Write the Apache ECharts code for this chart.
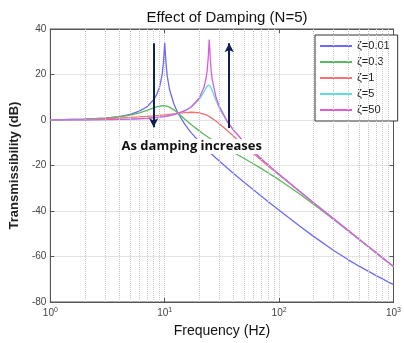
<!DOCTYPE html>
<html>
<head>
<meta charset="utf-8">
<script src="https://cdn.jsdelivr.net/npm/echarts@6/dist/echarts.min.js"></script>
<style>
  html, body { margin: 0; padding: 0; background: #fff; }
  #chart { width: 404px; height: 343px; }
</style>
</head>
<body>
<div id="chart"></div>
<script>
// frequency points (Hz) shared by all curves
const freq = [1, 2, 3, 4, 5, 6, 7, 8, 8.5, 9, 9.5, 9.75, 10, 10.25, 10.5, 11, 12, 13, 15, 17, 20, 22, 23, 23.5, 24, 24.25, 24.5, 24.75, 25, 25.5, 26, 28, 30, 35, 40, 50, 60, 70, 80, 100, 150, 200, 300, 400, 500, 700, 1000];

// transmissibility in dB, one list per damping ratio
const zeta001 = [0.09, 0.35, 0.82, 1.51, 2.50, 3.88, 5.85, 8.87, 11.12, 14.38, 20.06, 25.49, 33.98, 25.27, 19.62, 13.51, 7.12, 3.22, -1.94, -5.53, -9.53, -11.69, -12.65, -13.11, -13.55, -13.77, -13.98, -14.20, -14.40, -14.81, -15.21, -16.70, -18.04, -20.99, -23.48, -27.54, -30.79, -33.51, -35.83, -39.68, -46.49, -51.15, -57.33, -61.35, -64.26, -68.31, -72.34];
const zeta03 = [0.09, 0.35, 0.79, 1.40, 2.19, 3.15, 4.22, 5.29, 5.74, 6.12, 6.26, 6.28, 6.25, 6.17, 6.04, 5.64, 4.46, 3.06, 0.31, -2.02, -4.78, -6.26, -6.93, -7.24, -7.55, -7.70, -7.84, -7.99, -8.13, -8.41, -8.68, -9.69, -10.61, -12.59, -14.26, -17.04, -19.35, -21.36, -23.16, -26.30, -32.42, -37.04, -43.78, -48.67, -52.49, -58.29, -64.46];
const zeta1 = [0.08, 0.30, 0.57, 0.85, 1.12, 1.37, 1.61, 1.83, 1.95, 2.06, 2.17, 2.22, 2.28, 2.33, 2.39, 2.50, 2.71, 2.90, 3.24, 3.41, 3.18, 2.62, 2.23, 2.01, 1.78, 1.65, 1.53, 1.40, 1.27, 1.00, 0.72, -0.44, -1.63, -4.53, -7.13, -11.44, -14.88, -17.73, -20.17, -24.18, -31.37, -36.41, -43.49, -48.50, -52.39, -58.24, -64.43];
const zeta5 = [0.04, 0.10, 0.18, 0.28, 0.42, 0.58, 0.78, 1.02, 1.15, 1.29, 1.45, 1.53, 1.61, 1.70, 1.79, 1.98, 2.40, 2.87, 4.04, 5.58, 8.98, 12.33, 14.19, 14.95, 15.39, 15.45, 15.39, 15.20, 14.90, 14.06, 13.00, 8.68, 5.24, -0.63, -4.59, -10.08, -14.02, -17.13, -19.73, -23.91, -31.25, -36.35, -43.46, -48.49, -52.38, -58.23, -64.43];
const zeta50 = [0.02, 0.06, 0.13, 0.24, 0.37, 0.54, 0.74, 0.98, 1.11, 1.26, 1.42, 1.50, 1.58, 1.67, 1.76, 1.96, 2.38, 2.87, 4.08, 5.71, 9.54, 14.25, 18.46, 21.81, 27.27, 31.69, 35.38, 31.33, 26.95, 21.34, 17.86, 10.25, 6.01, -0.36, -4.44, -10.01, -13.98, -17.11, -19.71, -23.90, -31.25, -36.35, -43.46, -48.49, -52.38, -58.23, -64.43];

const seriesNames = ['ζ=0.01', 'ζ=0.3', 'ζ=1', 'ζ=5', 'ζ=50'];
const seriesColors = ['#6b6bf5', '#5cb85c', '#f47272', '#5fdcdc', '#dc5cdc'];
const seriesData = [zeta001, zeta03, zeta1, zeta5, zeta50];

// minor gridlines of the log axis
const minorTicks = [2, 3, 4, 5, 6, 7, 8, 9, 20, 30, 40, 50, 60, 70, 80, 90, 200, 300, 400, 500, 600, 700, 800, 900];

// arrows: [freq, dB from] -> [freq, dB to]
const arrowDown = [[8, 33.7], [8, -3.2]];
const arrowUp = [[36.6, -3.5], [36.6, 33.7]];
const noteText = 'As damping increases';
const notePos = [17.2, -11.6];

const chart = echarts.init(document.getElementById('chart'));

const gridColor = '#c8c8c8';
const axisColor = '#555';

const curves = seriesData.map((vals, i) => ({
  name: seriesNames[i],
  type: 'line',
  data: freq.map((f, j) => [f, vals[j]]),
  showSymbol: false,
  symbol: 'none',
  lineStyle: { color: seriesColors[i], width: 1.3 },
  itemStyle: { color: seriesColors[i] },
  z: 3,
}));

const option = {
  animation: false,
  backgroundColor: '#fff',
  title: {
    text: 'Effect of Damping (N=5)',
    left: 222,
    textAlign: 'center',
    top: 5,
    textStyle: { fontFamily: 'Liberation Sans', fontSize: 15, fontWeight: 'normal', color: '#111' },
  },
  grid: {
    left: 46, right: 5, top: 29, bottom: 40,
    show: true, borderColor: axisColor, borderWidth: 1, backgroundColor: '#fff',
  },
  legend: {
    orient: 'vertical',
    left: 315,
    top: 35,
    padding: [4, 8, 4, 5],
    itemWidth: 32,
    itemHeight: 2,
    itemGap: 2,
    icon: 'rect',
    backgroundColor: '#fff',
    borderColor: '#333',
    borderWidth: 1,
    data: seriesNames,
    textStyle: { fontFamily: 'Liberation Sans', fontSize: 11, lineHeight: 14, color: '#222' },
  },
  xAxis: [
    {
      type: 'log',
      logBase: 10,
      min: 1,
      max: 1000,
      name: 'Frequency (Hz)',
      nameLocation: 'middle',
      nameGap: 22,
      nameTextStyle: { fontFamily: 'Liberation Sans', fontSize: 14, color: '#111' },
      axisLine: { onZero: false, lineStyle: { color: axisColor } },
      axisTick: { inside: true, length: 4, lineStyle: { color: axisColor } },
      axisLabel: {
        margin: 5,
        color: '#444',
        fontFamily: 'Liberation Sans',
        fontSize: 10,
        formatter: (v) => '10{s|' + Math.round(Math.log10(v)) + '}',
        rich: {
          s: { fontSize: 7, verticalAlign: 'top', padding: [0, 0, 6, 0], color: '#444' },
        },
      },
      splitLine: { show: true, lineStyle: { color: gridColor, type: 'dotted' } },
    },
    {
      type: 'log', logBase: 10, min: 1, max: 1000, position: 'top',
      axisLine: { onZero: false, lineStyle: { color: axisColor } },
      axisTick: { inside: true, length: 4, lineStyle: { color: axisColor } },
      axisLabel: { show: false },
      splitLine: { show: false },
    },
  ],
  yAxis: [
    {
      type: 'value',
      min: -80,
      max: 40,
      interval: 20,
      name: 'Transmissibility (dB)',
      nameLocation: 'middle',
      nameGap: 25,
      nameTextStyle: { fontFamily: 'Liberation Sans', fontSize: 13, fontWeight: 'bold', color: '#222' },
      axisLine: { show: true, onZero: false, lineStyle: { color: axisColor } },
      axisTick: { inside: true, length: 4, lineStyle: { color: axisColor } },
      axisLabel: { margin: 4, color: '#444', fontFamily: 'Liberation Sans', fontSize: 10 },
      splitLine: { show: true, lineStyle: { color: gridColor, type: 'dotted' } },
    },
    {
      type: 'value', min: -80, max: 40, interval: 20, position: 'right',
      axisLine: { show: true, onZero: false, lineStyle: { color: axisColor } },
      axisTick: { inside: true, length: 4, lineStyle: { color: axisColor } },
      axisLabel: { show: false },
      splitLine: { show: false },
    },
  ],
  series: [
    {
      name: 'minor-grid',
      type: 'line',
      data: [],
      z: 1,
      silent: true,
      markLine: {
        silent: true,
        symbol: 'none',
        label: { show: false },
        lineStyle: { color: gridColor, type: 'dotted', width: 1 },
        data: minorTicks.map((v) => ({ xAxis: v })),
      },
    },
    ...curves,
    {
      name: 'annotation',
      type: 'line',
      data: [],
      z: 10,
      silent: true,
      markLine: {
        silent: true,
        symbol: ['none', 'arrow'],
        symbolSize: [7, 9],
        label: { show: false },
        lineStyle: { color: '#0e1f55', width: 2, type: 'solid' },
        data: [
          [{ coord: arrowDown[0] }, { coord: arrowDown[1] }],
          [{ coord: arrowUp[0] }, { coord: arrowUp[1] }],
        ],
      },
      markPoint: {
        silent: true,
        symbol: 'rect',
        symbolSize: 1,
        itemStyle: { color: 'rgba(0,0,0,0)' },
        label: {
          show: true,
          position: 'inside',
          formatter: noteText,
          fontFamily: 'Open Sans',
          fontWeight: 'bold',
          fontSize: 13,
          color: '#111',
          backgroundColor: '#fff',
          padding: [1, 2],
        },
        data: [{ coord: notePos }],
      },
    },
  ],
};

chart.setOption(option);
</script>
</body>
</html>
